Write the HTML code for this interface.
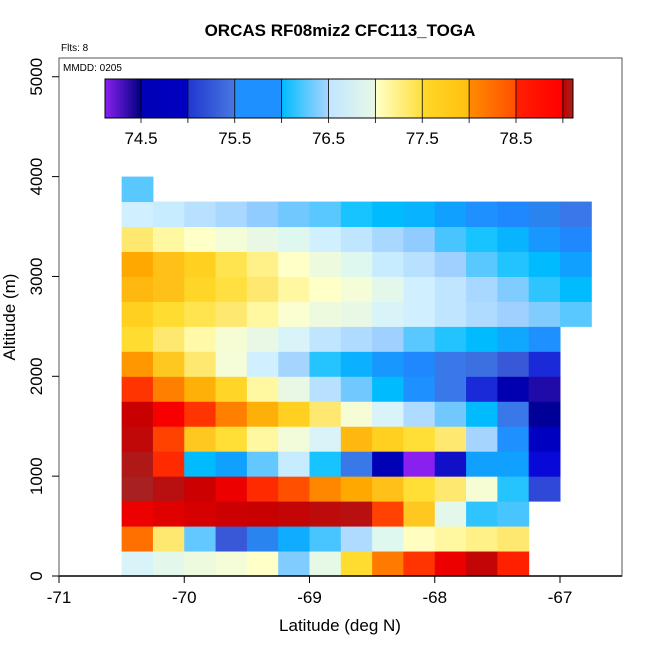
<!DOCTYPE html>
<html><head><meta charset="utf-8"><style>
body{margin:0;background:#fff}
svg text{font-family:"Liberation Sans",sans-serif}
</style></head><body>
<svg id="chart" width="650" height="650" viewBox="0 0 650 650" xmlns="http://www.w3.org/2000/svg">
<defs>
<linearGradient id="cbg" x1="0" x2="1" y1="0" y2="0">
<stop offset="0" stop-color="#8a20f0"/>
<stop offset="0.077" stop-color="#000080"/>
<stop offset="0.078" stop-color="#0000b8"/>
<stop offset="0.177" stop-color="#0000c0"/>
<stop offset="0.178" stop-color="#2038d0"/>
<stop offset="0.277" stop-color="#4878e0"/>
<stop offset="0.278" stop-color="#1e90ff"/>
<stop offset="0.377" stop-color="#1e90ff"/>
<stop offset="0.378" stop-color="#00bcff"/>
<stop offset="0.477" stop-color="#a8d4ff"/>
<stop offset="0.478" stop-color="#c0e6ff"/>
<stop offset="0.577" stop-color="#e8f8e8"/>
<stop offset="0.578" stop-color="#ffffc8"/>
<stop offset="0.677" stop-color="#ffe040"/>
<stop offset="0.678" stop-color="#ffd828"/>
<stop offset="0.777" stop-color="#ffc010"/>
<stop offset="0.778" stop-color="#ff8c00"/>
<stop offset="0.877" stop-color="#ff5000"/>
<stop offset="0.878" stop-color="#ff2000"/>
<stop offset="0.977" stop-color="#ff0000"/>
<stop offset="0.978" stop-color="#c00000"/>
<stop offset="1" stop-color="#a82020"/>
</linearGradient>
</defs>
<g id="cells"></g>
<rect x="59" y="58" width="563" height="518" fill="none" stroke="#555" stroke-width="1"/>
<line x1="59" y1="576" x2="622" y2="576" stroke="#000" stroke-width="1.5"/>
<line x1="59" y1="58" x2="59" y2="576" stroke="#555" stroke-width="1"/>
<g id="xticks"></g>
<g id="yticks"></g>
<rect x="105" y="79" width="468" height="39" fill="url(#cbg)" stroke="#000" stroke-width="1"/>
<g id="cbticks"></g>
<text x="340" y="36" text-anchor="middle" font-size="17" font-weight="bold">ORCAS RF08miz2 CFC113_TOGA</text>
<text x="61" y="51" font-size="10">Flts: 8</text>
<text x="63" y="71" font-size="10">MMDD: 0205</text>
<text x="340" y="631" text-anchor="middle" font-size="17">Latitude (deg N)</text>
<text transform="translate(15,317) rotate(-90)" text-anchor="middle" font-size="17">Altitude (m)</text>
</svg>
<script>
const lonCenters = [-70.375,-70.125,-69.875,-69.625,-69.375,-69.125,-68.875,-68.625,-68.375,-68.125,-67.875,-67.625,-67.375,-67.125,-66.875];
const altBins = [0,250,500,750,1000,1250,1500,1750,2000,2250,2500,2750,3000,3250,3500,3750];
const xTicks = [-71,-70,-69,-68,-67];
const yTicks = [0,1000,2000,3000,4000,5000];
const cbLabels = [74.5,75.5,76.5,77.5,78.5];
const cbLines = [74.5,75,75.5,76,76.5,77,77.5,78,78.5,79];
// values[row] for altitude bins, columns by lonCenters (null = no data)
const row0 = [76.6,76.75,76.85,76.9,77.0,76.18,76.78,77.4,78.12,78.4,78.65,78.88,78.5,null,null];
const row1 = [78.15,77.2,76.12,75.0,75.3,75.68,76.05,76.32,76.7,77.02,77.1,77.15,77.2,null,null];
const row2 = [78.65,78.7,78.75,78.8,78.85,78.88,78.92,78.95,78.35,77.6,76.75,76.0,76.05,null,null];
const row3 = [79.05,78.95,78.8,78.65,78.45,78.3,78.07,77.9,77.7,77.38,77.2,76.92,75.98,74.98,null];
const row4 = [79.0,78.45,75.8,75.6,76.12,76.45,75.95,75.2,74.62,74.15,74.75,75.6,75.6,74.78,null];
const row5 = [78.9,78.35,77.6,77.38,77.1,76.88,76.6,77.8,77.5,77.38,77.2,76.28,75.5,74.65,null];
const row6 = [78.85,78.55,78.4,78.1,77.85,77.5,77.2,76.92,76.6,76.32,76.15,75.8,75.2,74.5,null];
const row7 = [78.4,78.1,77.85,77.45,77.1,76.8,76.35,76.15,75.8,75.5,75.2,74.9,74.6,74.4,null];
const row8 = [78.0,77.6,77.2,76.9,76.5,76.28,75.98,75.72,75.55,75.4,75.2,75.1,75.0,74.9,null];
const row9 = [77.4,77.2,77.08,76.92,76.8,76.6,76.4,76.32,76.25,76.1,75.97,75.8,75.65,75.5,null];
const row10 = [77.5,77.4,77.3,77.2,77.1,76.95,76.85,76.8,76.6,76.5,76.4,76.32,76.25,76.18,76.1];
const row11 = [77.8,77.7,77.45,77.35,77.2,77.1,77.0,76.9,76.75,76.5,76.4,76.3,76.18,76.0,75.8];
const row12 = [77.9,77.7,77.5,77.3,77.15,77.0,76.85,76.7,76.45,76.35,76.25,76.1,75.97,75.8,75.6];
const row13 = [77.2,77.1,77.0,76.9,76.8,76.7,76.5,76.4,76.3,76.2,76.05,75.95,75.75,75.55,75.4];
const row14 = [76.5,76.45,76.35,76.3,76.2,76.15,76.1,75.95,75.8,75.75,75.6,75.5,75.4,75.3,75.2];
const row15 = [76.1,null,null,null,null,null,null,null,null,null,null,null,null,null,null];
const rows = [row0,row1,row2,row3,row4,row5,row6,row7,row8,row9,row10,row11,row12,row13,row14,row15];

const stops=[[74.15,"#8a20f0"],[74.4,"#200aa8"],[74.5,"#000098"],[74.6,"#0000b0"],[74.65,"#0000c0"],[74.75,"#1010c8"],[74.78,"#0808d8"],[74.9,"#1a2ad8"],[74.98,"#3048d8"],[75.0,"#3858d8"],[75.1,"#3c70e0"],[75.2,"#3878e8"],[75.3,"#2a84f0"],[75.4,"#2088ff"],[75.5,"#1e90ff"],[75.55,"#1898ff"],[75.6,"#10a0ff"],[75.68,"#10acff"],[75.75,"#08b4ff"],[75.8,"#00bcff"],[75.95,"#18c4ff"],[76.05,"#48c4ff"],[76.1,"#58c8ff"],[76.15,"#70c8ff"],[76.18,"#80ccff"],[76.2,"#90ccff"],[76.25,"#a0d0ff"],[76.3,"#a8d8ff"],[76.35,"#b8e0ff"],[76.45,"#c8ecff"],[76.5,"#d0f0ff"],[76.6,"#d8f4f8"],[76.7,"#def8f0"],[76.8,"#e8f8e4"],[76.9,"#f4fcd8"],[77.0,"#ffffc8"],[77.1,"#fff8a0"],[77.2,"#ffe870"],[77.3,"#ffe450"],[77.4,"#ffdc30"],[77.5,"#ffd020"],[77.6,"#ffc820"],[77.7,"#ffc018"],[77.8,"#ffb810"],[77.9,"#ffa800"],[78.0,"#ff9800"],[78.1,"#ff8000"],[78.15,"#ff7000"],[78.3,"#ff5000"],[78.4,"#ff3400"],[78.5,"#ff2000"],[78.55,"#f80000"],[78.65,"#ec0000"],[78.7,"#e00000"],[78.8,"#cc0000"],[78.85,"#c80000"],[78.9,"#c00808"],[78.95,"#b81010"],[79.05,"#a82020"]];
function hx(c){return [1,3,5].map(i=>parseInt(c.substr(i,2),16));}
function color(v){
  if(v<=stops[0][0])return stops[0][1];
  for(let i=1;i<stops.length;i++){
    if(v<=stops[i][0]){
      const t=(v-stops[i-1][0])/(stops[i][0]-stops[i-1][0]);
      const a=hx(stops[i-1][1]),b=hx(stops[i][1]);
      return "rgb("+a.map((x,k)=>Math.round(x+(b[k]-x)*t)).join(",")+")";
    }
  }
  return stops[stops.length-1][1];
}
const xs=lon=>59+(lon+71)*125.25;
const ys=alt=>576-alt*0.09985;
const NS="http://www.w3.org/2000/svg";
const cells=document.getElementById("cells");
rows.forEach((r,ri)=>{
  r.forEach((v,ci)=>{
    if(v===null)return;
    const rc=document.createElementNS(NS,"rect");
    const x0=xs(lonCenters[ci]-0.125),x1=xs(lonCenters[ci]+0.125);
    const y0=ys(altBins[ri]+250),y1=ys(altBins[ri]);
    rc.setAttribute("x",x0);rc.setAttribute("y",y0);
    rc.setAttribute("width",x1-x0+0.5);rc.setAttribute("height",y1-y0+0.5);
    rc.setAttribute("fill",color(v));
    
    
    cells.appendChild(rc);
  });
});
const xt=document.getElementById("xticks");
xTicks.forEach(t=>{
  const x=xs(t);
  const l=document.createElementNS(NS,"line");
  l.setAttribute("x1",x);l.setAttribute("x2",x);l.setAttribute("y1",576);l.setAttribute("y2",583);l.setAttribute("stroke","#000");
  
  
  xt.appendChild(l);
  const tx=document.createElementNS(NS,"text");
  tx.setAttribute("x",x);tx.setAttribute("y",603);tx.setAttribute("text-anchor","middle");tx.setAttribute("font-size","17");
  tx.textContent=String(t);
  
  
  xt.appendChild(tx);
});
const yt=document.getElementById("yticks");
yTicks.forEach(t=>{
  const y=ys(t);
  const l=document.createElementNS(NS,"line");
  l.setAttribute("x1",52);l.setAttribute("x2",59);l.setAttribute("y1",y);l.setAttribute("y2",y);l.setAttribute("stroke","#000");
  
  
  yt.appendChild(l);
  const tx=document.createElementNS(NS,"text");
  tx.setAttribute("transform","translate(42,"+y+") rotate(-90)");tx.setAttribute("text-anchor","middle");tx.setAttribute("font-size","17");
  tx.textContent=String(t);
  
  
  yt.appendChild(tx);
});
const cb=document.getElementById("cbticks");
const cbx=v=>141+(v-74.5)*93.75;
cbLines.forEach(v=>{
  const l=document.createElementNS(NS,"line");
  l.setAttribute("x1",cbx(v));l.setAttribute("x2",cbx(v));l.setAttribute("y1",79);l.setAttribute("y2",123);l.setAttribute("stroke","#000");l.setAttribute("stroke-width","0.8");
  
  
  cb.appendChild(l);
});
cbLabels.forEach(v=>{
  const tx=document.createElementNS(NS,"text");
  tx.setAttribute("x",cbx(v));tx.setAttribute("y",144);tx.setAttribute("text-anchor","middle");tx.setAttribute("font-size","17");
  tx.textContent=v.toFixed(1);
  
  
  cb.appendChild(tx);
});
</script>
</body></html>
